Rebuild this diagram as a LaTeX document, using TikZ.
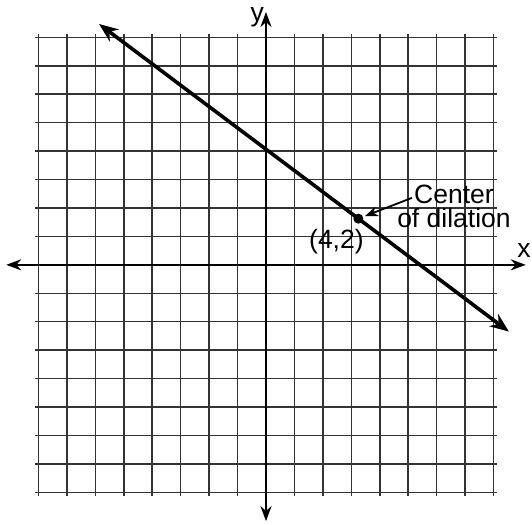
\documentclass[tikz,border=0pt]{standalone}
\usepackage{fontspec}
\setmainfont{Liberation Sans}
\usetikzlibrary{arrows.meta,positioning}

\begin{document}
\begin{tikzpicture}[x=23.1pt, y=23.1pt,
    gridline/.style={black!80, line width=1.5pt},
    axis/.style={line width=2.2pt, {Stealth[length=15pt,width=11pt]}-{Stealth[length=15pt,width=11pt]}},
    graphline/.style={line width=3.6pt, {Stealth[length=19pt,width=15pt]}-{Stealth[length=19pt,width=15pt]}},
    lbl/.style={font=\fontsize{26.5}{24}\selectfont, inner sep=0pt}]
    \useasboundingbox (-11.52,-11.26) rectangle (11.52,11.47);

    % Grid
    \draw[gridline] (-10,-10) grid (10,10);

    % Axes
    \coordinate (xl) at (-11.25,0);
    \coordinate (xr) at (11.25,0);
    \coordinate (yb) at (0,-11.1);
    \coordinate (yt) at (0,10.95);
    \draw[axis] (xl) -- (xr);
    \draw[axis] (yb) -- (yt);
    \node[lbl] (xlab) at (11.17,0.6) {x};
    \node[lbl] (ylab) at (-0.38,10.72) {y};

    % Line through the center
    \coordinate (lstart) at (-7.23,10.43);
    \coordinate (lend) at (10.52,-2.89);
    \draw[graphline] (lstart) -- (lend);

    % Center of dilation
    \node[circle, fill=black, inner sep=0pt, minimum size=10pt] (ctr) at (4,2) {};
    \node[lbl] (ctrlab) at (3.05,1.0) {(4,2)};
    \node[lbl, align=center] (dil) at (8.14,2.55) {Center\\of dilation};
    \coordinate (callout) at (6.32,2.9);
    \draw[line width=1.8pt, -{Stealth[length=13pt,width=10pt]}, shorten >=2pt] (callout) -- (ctr);
\end{tikzpicture}
\end{document}
